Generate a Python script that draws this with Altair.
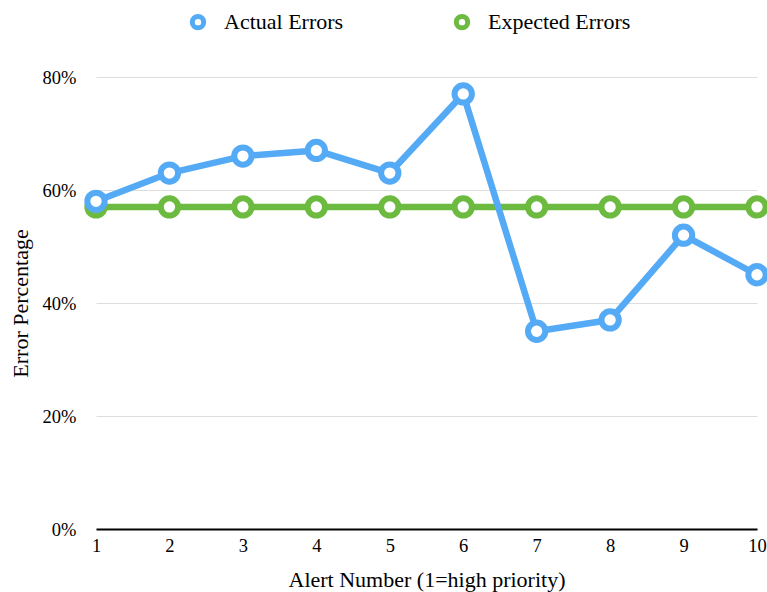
import altair as alt
import pandas as pd

# Alert priority rank (1 = highest)
alerts = [1, 2, 3, 4, 5, 6, 7, 8, 9, 10]
# Observed error share per alert
actual_errors = [0.58, 0.63, 0.66, 0.67, 0.63, 0.77, 0.35, 0.37, 0.52, 0.45]
# Baseline error share expected for every alert
expected_errors = [0.57, 0.57, 0.57, 0.57, 0.57, 0.57, 0.57, 0.57, 0.57, 0.57]

series_names = ["Actual Errors", "Expected Errors"]
series_colors = ["#55aaf6", "#6cba3f"]

actual_df = pd.DataFrame({"alert": alerts, "pct": actual_errors, "series": series_names[0]})
expected_df = pd.DataFrame({"alert": alerts, "pct": expected_errors, "series": series_names[1]})

SERIF = "Liberation Serif"

x_enc = alt.X(
    "alert:Q",
    scale=alt.Scale(domain=[1, 10], nice=False, zero=False),
    axis=alt.Axis(
        values=alerts,
        format="d",
        title="Alert Number (1=high priority)",
        grid=False,
        ticks=False,
        domainColor="#000000",
        domainWidth=2,
        labelFont=SERIF,
        labelFontSize=18.5,
        labelColor="#000000",
        labelPadding=7,
        labelFlush=False,
        titleFont=SERIF,
        titleFontSize=22,
        titleFontWeight="normal",
        titleColor="#000000",
        titleY=57,
        titleBaseline="alphabetic",
    ),
)
y_enc = alt.Y(
    "pct:Q",
    scale=alt.Scale(domain=[0, 0.8], nice=False),
    axis=alt.Axis(
        values=[0, 0.2, 0.4, 0.6, 0.8],
        format=".0%",
        title="Error Percentage",
        domain=False,
        ticks=False,
        gridColor="#dddddd",
        gridWidth=1,
        labelFont=SERIF,
        labelFontSize=18.5,
        labelColor="#000000",
        labelPadding=20,
        titleFont=SERIF,
        titleFontSize=22,
        titleFontWeight="normal",
        titleColor="#000000",
        titleAngle=-90,
        titleX=-76,
        titleY=226,
        titleAlign="center",
        titleBaseline="middle",
    ),
)
color_enc = alt.Color(
    "series:N",
    scale=alt.Scale(domain=series_names, range=series_colors),
    legend=alt.Legend(
        title=None,
        orient="none",
        direction="horizontal",
        legendX=91,
        legendY=-66,
        symbolType="circle",
        symbolFillColor="white",
        symbolStrokeWidth=5,
        symbolSize=130,
        labelFont=SERIF,
        labelFontSize=22,
        labelColor="#000000",
        labelOffset=15,
        columnPadding=102,
    ),
)
stroke_enc = alt.Stroke(
    "series:N", scale=alt.Scale(domain=series_names, range=series_colors), legend=None
)


def series_layers(df):
    line = alt.Chart(df).mark_line(strokeWidth=6.5, strokeJoin="round").encode(
        x=x_enc, y=y_enc, color=color_enc
    )
    pts = alt.Chart(df).mark_point(
        shape="circle", filled=False, fill="white", fillOpacity=1, size=300, strokeWidth=6, opacity=1
    ).encode(x=x_enc, y=y_enc, stroke=stroke_enc, color=color_enc)
    return [line, pts]


chart = alt.layer(
    *series_layers(expected_df),
    *series_layers(actual_df),
).properties(
    width=661,
    height=452,
    autosize=alt.AutoSizeParams(type="none"),
    padding={"left": 96, "top": 77, "right": 10, "bottom": 63},
).configure_view(stroke=None)

chart.save("out.html", embed_options={"renderer": "svg", "actions": False})
